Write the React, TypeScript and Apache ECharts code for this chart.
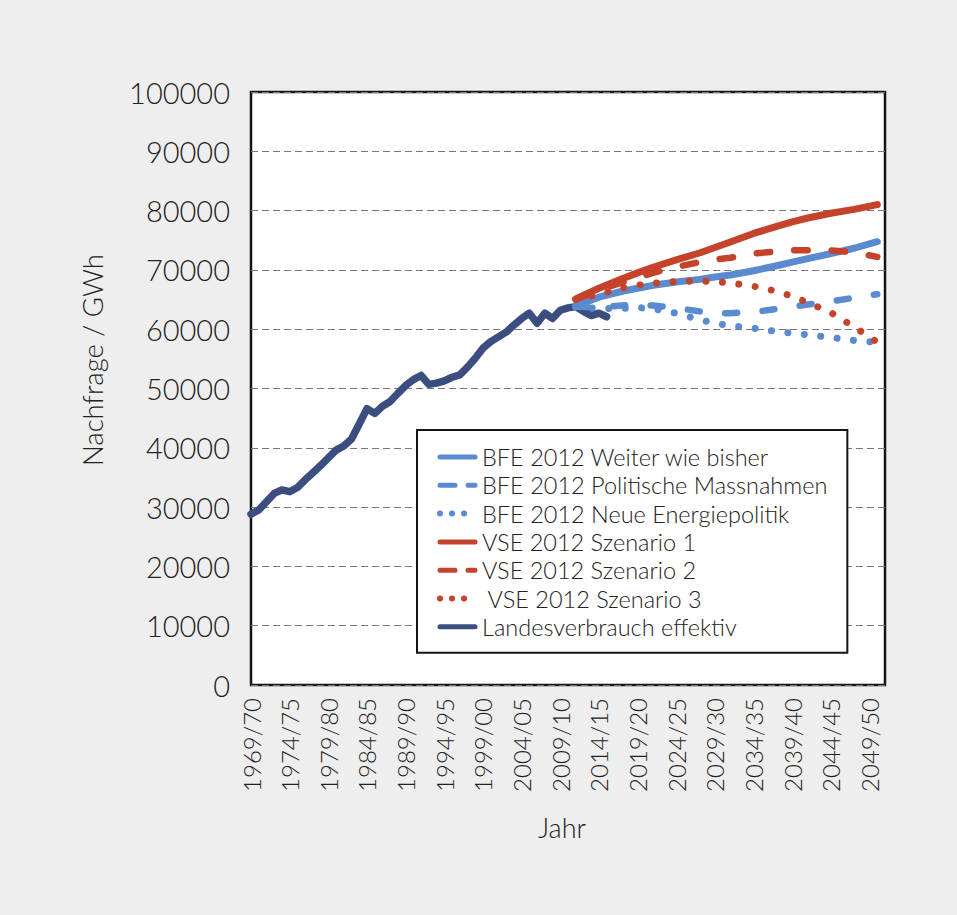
import { useEffect, useRef } from 'react';
import * as echarts from 'echarts';

// Hydrological years 1969/70 … 2051/52
const periods: string[] = [];
for (let y = 1969; y <= 2051; y++) {
  periods.push(`${y}/${String((y + 1) % 100).padStart(2, '0')}`);
}

// Landesverbrauch effektiv, GWh, from 1969/70 onward
const landesverbrauch = [
  28800, 29500, 30900, 32300, 32900, 32600, 33300, 34600, 35800, 37000,
  38300, 39600, 40300, 41500, 44000, 46600, 45800, 47000, 47800, 49200,
  50500, 51500, 52200, 50700, 50900, 51300, 51900, 52300, 53600, 55100,
  56800, 57900, 58700, 59500, 60700, 61800, 62700, 61000, 62700, 61800,
  63200, 63600, 63800, 63000, 62300, 62700, 62100,
];

// Scenario support periods
const scenarioPeriods = [
  '2011/12', '2014/15', '2017/18', '2019/20', '2021/22', '2024/25', '2027/28', '2029/30',
  '2031/32', '2034/35', '2037/38', '2039/40', '2041/42', '2044/45', '2047/48', '2050/51',
];

const bfeWeiter = [63900, 65400, 66400, 66900, 67400, 67950, 68400, 68800, 69150, 69850, 70700, 71300, 71900, 72750, 73650, 74750];
const bfePolitisch = [63800, 63700, 64000, 64100, 64000, 63600, 63000, 62700, 62700, 62900, 63400, 63800, 64150, 64700, 65300, 65900];
const bfeNeue = [63800, 63500, 63500, 63650, 63450, 62700, 61600, 61000, 60600, 60150, 59600, 59350, 59050, 58600, 58100, 57800];
const vse1 = [65100, 66900, 68500, 69500, 70450, 71700, 72850, 73770, 74700, 76150, 77350, 78100, 78750, 79550, 80200, 81000];
const vse2 = [65000, 66600, 67900, 68700, 69500, 70500, 71300, 71750, 72050, 72750, 73100, 73300, 73300, 73300, 72950, 72200];
const vse3 = [65000, 65900, 66950, 67400, 67750, 68050, 68100, 68050, 67800, 67250, 66400, 65550, 64500, 62800, 60400, 57800];

const yTicks = { min: 0, max: 100000, step: 10000 };

const FONT = 'Lato, "Open Sans", sans-serif';
const BLUE = '#5A8ACF';
const RED = '#C5432A';
const NAVY = '#3C4E80';

const DOT: number[] = [0.01, 16.5];
const DASH_BLUE: number[] = [12, 25.5];
const DASH_RED: number[] = [13.5, 24];

const pair = (vals: number[]) => scenarioPeriods.map((p, i) => [p, vals[i]]);

export default function App() {
  const ref = useRef<HTMLDivElement>(null);

  useEffect(() => {
    if (!ref.current) return;
    const chart = echarts.init(ref.current, undefined, { renderer: 'svg' });

    const lineSeries = (name: string, data: any[], color: string, type: any, width = 6.5) => ({
      name,
      type: 'line',
      data,
      symbol: 'none',
      z: 3,
      lineStyle: { color, width, type, cap: 'round', join: 'round' },
      itemStyle: { color },
    });

    const legendText = {
      fontSize: 23.5,
      color: '#222',
      fontFamily: FONT,
      fontWeight: 300,
      padding: [0, 0, 0, 2],
    };

    chart.setOption({
      animation: false,
      backgroundColor: '#eeeeee',
      grid: {
        left: 251,
        top: 92,
        right: 72,
        bottom: 230,
        show: true,
        backgroundColor: '#ffffff',
        borderColor: '#151515',
        borderWidth: 2.5,
      },
      xAxis: {
        type: 'category',
        data: periods,
        boundaryGap: false,
        axisLine: { show: false },
        axisTick: { show: false },
        splitLine: { show: false },
        axisLabel: {
          interval: 4,
          rotate: 90,
          margin: 13,
          fontSize: 24,
          color: '#222',
          fontFamily: FONT,
          fontWeight: 300,
        },
      },
      yAxis: {
        type: 'value',
        min: yTicks.min,
        max: yTicks.max,
        interval: yTicks.step,
        axisLine: { show: false },
        axisTick: { show: false },
        axisLabel: {
          margin: 21,
          fontSize: 29,
          color: '#222',
          fontFamily: FONT,
          fontWeight: 300,
          formatter: (v: number) => String(v),
        },
        splitLine: { lineStyle: { type: [7, 4], color: '#777', width: 1 } },
      },
      legend: {
        orient: 'vertical',
        left: 417,
        top: 430,
        backgroundColor: '#ffffff',
        borderColor: '#151515',
        borderWidth: 2,
        padding: [15, 20, 14, 20],
        itemWidth: 35,
        itemHeight: 14,
        itemGap: 4.3,
        itemStyle: { opacity: 0 },
        lineStyle: { width: 5, cap: 'round' },
        textStyle: legendText,
        data: [
          { name: 'BFE 2012 Weiter wie bisher' },
          { name: 'BFE 2012 Politische Massnahmen', lineStyle: { type: [15, 13], width: 5, cap: 'round' } },
          { name: 'BFE 2012 Neue Energiepolitik', lineStyle: { type: [0.01, 12], width: 6, cap: 'round' } },
          { name: 'VSE 2012 Szenario 1' },
          { name: 'VSE 2012 Szenario 2', lineStyle: { type: [15, 13], width: 5, cap: 'round' } },
          { name: ' VSE 2012 Szenario 3', lineStyle: { type: [0.01, 12], width: 6, cap: 'round' } },
          { name: 'Landesverbrauch effektiv' },
        ],
      },
      series: [
        {
          name: 'Landesverbrauch effektiv',
          type: 'line',
          data: landesverbrauch,
          symbol: 'none',
          z: 2,
          lineStyle: { color: NAVY, width: 7.5, cap: 'round', join: 'round' },
          itemStyle: { color: NAVY },
        },
        lineSeries('BFE 2012 Weiter wie bisher', pair(bfeWeiter), BLUE, 'solid', 7),
        lineSeries('BFE 2012 Politische Massnahmen', pair(bfePolitisch), BLUE, DASH_BLUE),
        lineSeries('BFE 2012 Neue Energiepolitik', pair(bfeNeue), BLUE, DOT, 7),
        lineSeries('VSE 2012 Szenario 1', pair(vse1), RED, 'solid', 7),
        lineSeries('VSE 2012 Szenario 2', pair(vse2), RED, DASH_RED),
        lineSeries(' VSE 2012 Szenario 3', pair(vse3), RED, DOT, 7),
      ],
      graphic: [
        {
          type: 'text',
          x: 92,
          y: 360,
          rotation: Math.PI / 2,
          style: {
            text: 'Nachfrage / GWh',
            fontSize: 27.5,
            fontFamily: FONT,
            fontWeight: 300,
            fill: '#222',
            align: 'center',
            verticalAlign: 'middle',
          },
        },
        {
          type: 'text',
          x: 562,
          y: 827,
          style: {
            text: 'Jahr',
            fontSize: 27,
            fontFamily: FONT,
            fontWeight: 300,
            fill: '#222',
            align: 'center',
            verticalAlign: 'middle',
          },
        },
      ],
    });

    return () => chart.dispose();
  }, []);

  return (
    <div
      ref={ref}
      style={{ position: 'fixed', left: 0, top: 0, width: 957, height: 915, background: '#eeeeee' }}
    />
  );
}
